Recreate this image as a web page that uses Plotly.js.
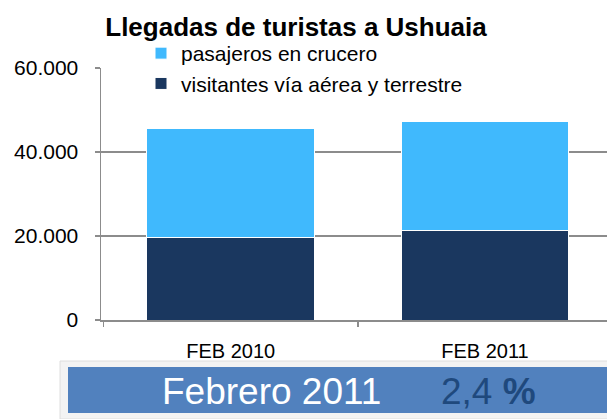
<!DOCTYPE html>
<html>
<head>
<meta charset="utf-8">
<script src="https://cdn.plot.ly/plotly-3.0.1.min.js"></script>
<style>html,body{margin:0;padding:0;background:#fff;}#chart{width:607px;height:419px;}</style>
</head>
<body>
<div id="chart"></div>
<script>
// Data
const categories = ["FEB 2010", "FEB 2011"];
const aereaTerrestre = [19700, 21300];
const cruceros = [26000, 26000];
const seriesNames = ["visitantes vía aérea y terrestre", "pasajeros en crucero"];
const yTicks = [0, 20000, 40000, 60000];
const titleText = "Llegadas de turistas a Ushuaia";
const bannerLabel = "Febrero 2011";
const bannerValue = "2,4 <b>%</b>";

// Layout helpers (pixel -> paper)
const W = 607, H = 419, L = 101, R = 0, T = 68, B = 99;
const pw = W - L - R, ph = H - T - B;
const px = x => (x - L) / pw;
const py = y => (H - B - y) / ph;

const FONT = "Liberation Sans, Arial, sans-serif";

const traces = [
  {type: "bar", name: seriesNames[0], x: categories, y: aereaTerrestre,
   marker: {color: "#1a375f", line: {color: "#ffffff", width: 1}}, width: 0.66, hoverinfo: "none"},
  {type: "bar", name: seriesNames[1], x: categories, y: cruceros,
   marker: {color: "#40b9fd", line: {color: "#ffffff", width: 1}}, width: 0.66, hoverinfo: "none"}
];

const layout = {
  width: W, height: H,
  margin: {l: L, r: R, t: T, b: B},
  paper_bgcolor: "#ffffff", plot_bgcolor: "#ffffff",
  separators: ",.",
  barmode: "stack",
  font: {family: FONT, size: 21, color: "#000000"},
  title: {text: "<b>" + titleText + "</b>", font: {family: FONT, size: 26, color: "#000"},
          x: 296 / W, xanchor: "center", y: 1 - 27 / H, yanchor: "middle", xref: "container", yref: "container"},
  xaxis: {type: "category", range: [-0.51, 1.48], showline: true, linecolor: "#8c8c8c", linewidth: 1.5,
          ticks: "outside", tickson: "boundaries", ticklen: 5, tickcolor: "#8c8c8c", tickwidth: 1.5,
          showgrid: false, zeroline: false, tickfont: {size: 20}, ticklabelstandoff: 12,
          tickangle: 0, automargin: false},
  yaxis: {range: [0, 60000], tickvals: yTicks, tickformat: ",", showline: true, linecolor: "#8c8c8c",
          linewidth: 1.5, ticks: "outside", ticklen: 5, tickcolor: "#8c8c8c", tickwidth: 1.5,
          showgrid: true, gridcolor: "#8c8c8c", gridwidth: 1.5, zeroline: false,
          tickfont: {size: 21}, ticklabelstandoff: 12, automargin: false},
  showlegend: true,
  legend: {xref: "paper", yref: "paper", x: px(141), y: py(33), xanchor: "left", yanchor: "top",
           bgcolor: "rgba(0,0,0,0)", font: {size: 21, color: "#000"}, traceorder: "reversed", itemclick: false},
  shapes: [
    {type: "rect", xref: "paper", yref: "paper", x0: px(60), x1: px(612), y0: py(419), y1: py(361),
     fillcolor: "#f3f3f3", line: {color: "#dedede", width: 1}, layer: "above"},
    {type: "rect", xref: "paper", yref: "paper", x0: px(68), x1: px(612), y0: py(413), y1: py(367),
     fillcolor: "#5181be", line: {width: 0}, layer: "above"}
  ],
  annotations: [
    {text: bannerLabel, xref: "paper", yref: "paper", x: px(271), y: py(391), xanchor: "center", yanchor: "middle",
     showarrow: false, font: {family: FONT, size: 37, color: "#ffffff"}},
    {text: bannerValue, xref: "paper", yref: "paper", x: px(488), y: py(391), xanchor: "center", yanchor: "middle",
     showarrow: false, font: {family: FONT, size: 37, color: "#1f497d"}}
  ]
};

Plotly.newPlot("chart", traces, layout, {staticPlot: true, displayModeBar: false});
</script>
</body>
</html>
